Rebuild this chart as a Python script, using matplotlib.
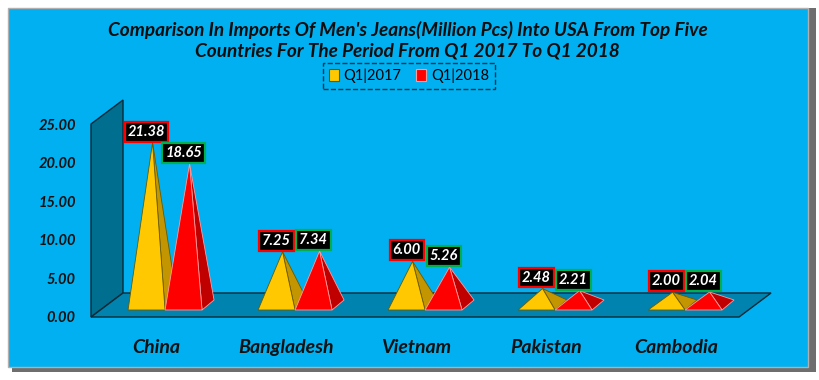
import matplotlib.pyplot as plt
from matplotlib.patches import Polygon, Rectangle, Patch

countries = ["China", "Bangladesh", "Vietnam", "Pakistan", "Cambodia"]
q1_2017 = [21.38, 7.25, 6.00, 2.48, 2.00]
q1_2018 = [18.65, 7.34, 5.26, 2.21, 2.04]
series_names = ["Q1|2017", "Q1|2018"]
y_ticks = [0, 5, 10, 15, 20, 25]

title = ("Comparison In Imports Of Men's Jeans(Million Pcs) Into USA From Top Five\n"
         "Countries For The Period From Q1 2017 To Q1 2018")

BG = "#00B0F0"
WALL = "#006E8F"
FLOOR = "#0083AE"
EDGE = "#0B2A38"
FRONT = ["#FFC800", "#FF0000"]
SIDE = ["#C39500", "#C00000"]
OUTLINE = ["#6B5A00", "#FF9A9A"]
LABEL_EDGE = ["#FF0000", "#00B050"]
FONT = ["Lato", "DejaVu Sans"]

W, H = 820, 380
fig = plt.figure(figsize=(W / 100, H / 100), dpi=100)
fig.patch.set_facecolor("white")

# frame with shadow
fig.patches.append(Rectangle((12 / W, 8 / H), 804 / W, 364 / H, transform=fig.transFigure,
                             facecolor="#6E6E6E", edgecolor="none", zorder=-3))
fig.patches.append(Rectangle((8 / W, 13 / H), 800 / W, 359 / H, transform=fig.transFigure,
                             facecolor=BG, edgecolor="#B0B0B0", linewidth=1.0, zorder=-2))

# axes in data units: 1 category = 130 px, 1 value unit = 7.72 px
px_x, px_y = 130.0, 7.72
ax_left, ax_right, ax_bottom, ax_top = 91, 780, 317, 95
ax = fig.add_axes([ax_left / W, (H - ax_bottom) / H, (ax_right - ax_left) / W, (ax_bottom - ax_top) / H])
ax.set_zorder(1)
ax.set_xlim(-0.5, -0.5 + (ax_right - ax_left) / px_x)
ax.set_ylim(0, (ax_bottom - ax_top) / px_y)
ax.patch.set_alpha(0)
for s in ax.spines.values():
    s.set_visible(False)

DX, DY = 32 / px_x, 24 / px_y
n = len(countries)
x0, x1 = -0.5, n - 0.515

# back wall and floor
ax.add_patch(Polygon([(x0, 0), (x0, 25), (x0 + DX, 25 + DY), (x0 + DX, DY)],
                     facecolor=WALL, edgecolor=EDGE, linewidth=1.0, zorder=2, clip_on=False))
ax.add_patch(Polygon([(x0, 0), (x1, 0), (x1 + DX, DY), (x0 + DX, DY)],
                     facecolor=FLOOR, edgecolor=EDGE, linewidth=1.0, zorder=2, clip_on=False))

# pyramids
w = 37 / px_x
offsets = [-0.215, -0.215 + w]
base_y = 7 / px_y
ddx, ddy = 12 / px_x, 10 / px_y
z = 3
for i in range(n):
    for s, vals in enumerate([q1_2017, q1_2018]):
        v = vals[i]
        xl = i + offsets[s]
        xr = xl + w
        apex = (xl + w / 2 + ddx / 2, base_y + ddy / 2 + v - 0.35)
        ax.add_patch(Polygon([(xr, base_y), (xr + ddx, base_y + ddy), apex],
                             facecolor=SIDE[s], edgecolor=OUTLINE[s], linewidth=0.6,
                             zorder=z, clip_on=False))
        ax.add_patch(Polygon([(xl, base_y), (xr, base_y), apex],
                             facecolor=FRONT[s], edgecolor=OUTLINE[s], linewidth=0.6,
                             zorder=z + 1, clip_on=False))
        z += 2
        ax.annotate(f"{v:.2f}", apex, xytext=(-6, 4), textcoords="offset pixels",
                    ha="center", va="bottom", color="white", fontsize=10.5,
                    fontweight="bold", fontstyle="italic", family=FONT, zorder=40,
                    bbox=dict(boxstyle="square,pad=0.2", facecolor="black",
                              edgecolor=LABEL_EDGE[s], linewidth=1.6))

ax.set_yticks(y_ticks)
ax.set_yticklabels([f"{t:.2f}" for t in y_ticks])
ax.set_xticks(range(n))
ax.set_xticklabels(countries)
ax.tick_params(axis="y", length=0, pad=11, labelsize=10.5, labelcolor="#111111")
ax.tick_params(axis="x", length=0, pad=16, labelsize=14, labelcolor="#111111")
for lab in ax.get_yticklabels() + ax.get_xticklabels():
    lab.set_fontweight("bold")
    lab.set_fontstyle("italic")
    lab.set_family(FONT)

fig.text(0.497, 1 - 40 / H, title, ha="center", va="center", fontsize=13.7,
         fontweight="bold", fontstyle="italic", family=FONT, color="#0D0D0D",
         linespacing=1.25)

handles = [Patch(facecolor=FRONT[0], edgecolor="#6B5A00", linewidth=0.8),
           Patch(facecolor=FRONT[1], edgecolor="#FF9A9A", linewidth=0.8)]
leg = fig.legend(handles, series_names, loc="center", bbox_to_anchor=(409 / W, 1 - 76 / H),
                 ncol=2, frameon=True, fancybox=False, handlelength=0.7,
                 handleheight=0.9, handletextpad=0.3, columnspacing=1.0,
                 borderpad=0.4, prop={"family": FONT, "size": 10.5})
frame = leg.get_frame()
frame.set_facecolor("none")
frame.set_edgecolor("#1A1A1A")
frame.set_linestyle("--")
frame.set_linewidth(1.0)

fig.savefig("out.png", dpi=100, facecolor=fig.get_facecolor())
